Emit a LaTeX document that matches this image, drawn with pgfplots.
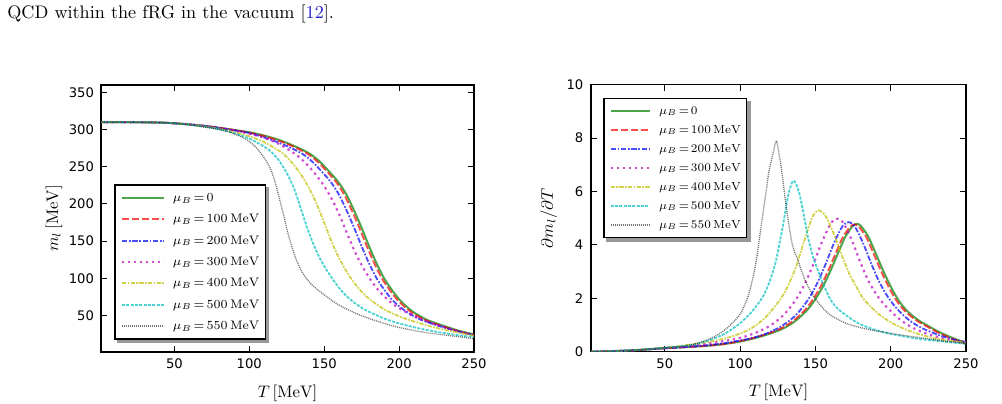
\RequirePackage{fix-cm}
\documentclass[border=0pt]{standalone}
\usepackage{fontspec}
\usepackage{pgfplots}
\pgfplotsset{compat=1.18}
\newfontfamily\tickfont{DejaVu Sans}

\pgfdeclarelayer{shadowlayer}
\pgfsetlayers{shadowlayer,main}

\definecolor{linkblue}{rgb}{0.12,0.12,0.8}
\definecolor{mplg}{rgb}{0,0.5,0}
\definecolor{mplr}{rgb}{1,0,0}
\definecolor{mplb}{rgb}{0,0,1}
\definecolor{mplm}{rgb}{0.75,0,0.75}
\definecolor{mply}{rgb}{0.75,0.75,0}
\definecolor{mplc}{rgb}{0,0.75,0.75}

% legend entries with tighter spacing around "="
\newcommand{\mub}[1]{$\thickmuskip=2.5mu \mu_B=#1$}

\pgfplotsset{
  mu0/.style={mplg, line width=1.2pt, opacity=0.7, solid},
  mu1/.style={mplr, line width=1.1pt, opacity=0.7, dash pattern=on 4.4pt off 1.6pt},
  mu2/.style={mplb, line width=1.1pt, opacity=0.7, dash pattern=on 3.2pt off 1pt on 1pt off 1pt},
  mu3/.style={mplm, line width=1.3pt, opacity=0.7, dash pattern=on 1.4pt off 2.2pt},
  mu4/.style={mply, line width=1.1pt, opacity=0.7, dash pattern=on 2.6pt off 0.8pt on 1pt off 0.8pt},
  mu5/.style={mplc, line width=1.1pt, opacity=0.7, dash pattern=on 1.8pt off 0.8pt},
  mu6/.style={black, line width=0.8pt, opacity=0.55, dash pattern=on 0.6pt off 0.6pt},
  panel/.style={
    scale only axis, height=160.2pt, anchor=south west,
    xmin=1, xmax=250, xtick={50,100,150,200,250},
    tick align=inside, tick pos=both,
    major tick length=3.6pt,
    tick style={black, line width=0.6pt},
    axis line style={line width=0.8pt},
    tick label style={font=\tickfont\fontsize{7.9}{9.5}\selectfont, inner sep=0pt},
    xticklabel style={yshift=-4pt},
    /pgf/number format/assume math mode=true,
    scaled ticks=false,
    label style={font=\fontsize{10.4}{12}\selectfont, inner sep=0pt},
    legend cell align=left,
  },
}

\begin{document}
\begin{tikzpicture}[x=1pt,y=1pt]
\useasboundingbox (0,0) rectangle (601.2,241.8);
\node[anchor=base west, inner sep=0pt, font=\fontsize{10.9}{13}\selectfont]
  at (4.2,230.8) {QCD within the fRG in the vacuum [\textcolor{linkblue}{12}].};

% ---------- light quark mass ----------
\begin{axis}[panel,
  at={(60.6pt,30.6pt)}, width=223.8pt,
  ymin=1, ymax=360, ytick={50,100,150,200,250,300,350},
  yticklabel style={xshift=-4pt},
  xlabel={$T\,[\mathrm{MeV}]$},
  ylabel={$m_l\,[\mathrm{MeV}]$},
  every axis x label/.style={at={(axis description cs:0.5,-0.0999)}, anchor=north},
  every axis y label/.style={at={(axis description cs:-0.126,0.5)}, rotate=90, anchor=center},
  legend image code/.code={\draw[#1] (0pt,0pt) -- (25.2pt,0pt);},
  legend style={name=legL, at={(0.0348,0.629)}, anchor=north west, draw=black, line width=1pt,
    fill=white, font=\fontsize{7.4}{9}\selectfont,
    inner xsep=3.6pt, inner ysep=3.9pt, row sep=4.8pt, column sep=4.8pt,
    nodes={inner sep=0pt, text height=6pt, text depth=2pt}},
]
\addplot[mu0, smooth] coordinates {(0,310)(20,310)(40,309.5)(50,308.5)(60,307)(70,305)(80,302.5)(90,299.5)(100,296.5)(110,292)(120,286)(130,278)(140,268)(147,257)(155,240)(160,228)(165,212)(170,191)(175,168)(180,143)(185,120)(190,100)(195,85)(200,72)(205,62)(210,54)(215,48)(220,43)(230,36)(240,29.5)(250,24.5)};
\addlegendentry{\mub{0}}
\addplot[mu1, smooth] coordinates {(0,310)(20,310)(40,309.5)(50,308.5)(60,307)(70,305)(80,302.5)(90,299.5)(98.5,296.5)(108.5,292)(118.5,286)(128.5,278)(138.5,268)(145.5,257)(153.5,240)(158.5,228)(163.5,212)(168.5,191)(173.5,168)(178.5,143)(183.5,120)(188.5,100)(193.5,85)(198.5,72)(203.5,62)(208.5,54)(213.5,48)(218.5,43)(228.5,36)(238.5,29.5)(248.5,24.5)(250,24)};
\addlegendentry{\mub{100\,\mathrm{MeV}}}
\addplot[mu2, smooth] coordinates {(0,310)(20,310)(40,309.5)(50,308.5)(60,307)(70,305)(80,302.3)(90,299)(100,295.5)(105,292.5)(115,286)(125,278)(135,268)(142,257)(150,240)(155,228)(160,212)(165,191)(170,168)(175,143)(180,120)(185,100)(190,85)(195,72)(200,62.5)(205,55)(210,49)(215,44)(225,37)(235,31)(245,26)(250,24)};
\addlegendentry{\mub{200\,\mathrm{MeV}}}
\addplot[mu3, smooth] coordinates {(0,310)(20,310)(40,309.5)(50,308.5)(60,307)(70,305)(80,302)(90,298.5)(100,294.5)(110,289)(120,280.5)(130,268)(135,260)(140,250)(145,238)(150,224)(155,207)(160,186)(165,162)(170,138)(175,118)(180,101)(185,87)(190,76)(195,67)(200,60)(210,49)(220,41)(230,34.5)(240,28.5)(250,23.5)};
\addlegendentry{\mub{300\,\mathrm{MeV}}}
\addplot[mu4, smooth] coordinates {(0,310)(20,310)(40,309.5)(50,308.5)(60,306.8)(70,304.3)(80,301)(90,296.5)(100,291)(110,283)(120,271.5)(125,263)(130,252)(135,238)(140,221)(145,200)(150,175)(155,149)(160,127)(165,109)(170,94)(175,82)(180,72.5)(190,58.5)(200,49)(210,42)(220,36)(230,31)(240,27)(250,23)};
\addlegendentry{\mub{400\,\mathrm{MeV}}}
\addplot[mu5, smooth] coordinates {(0,310)(20,310)(40,309.5)(50,308.5)(60,306.5)(70,304)(80,300.5)(90,295)(100,288)(110,277)(115,269.5)(120,258)(124,245)(127,234)(130,220)(133,203)(136,184)(139,166)(142,150)(145,136)(148,123.5)(152,110)(156,98)(160,87)(165,76)(170,67.5)(175,60.5)(180,55)(190,46)(200,39.5)(215,32)(230,26.5)(240,23.5)(250,21)};
\addlegendentry{\mub{500\,\mathrm{MeV}}}
\addplot[mu6, smooth] coordinates {(0,310)(20,310)(40,309.5)(50,308.5)(60,306.5)(70,303.5)(80,300)(87,296.5)(95,290)(100,284)(105,275)(110,262)(113,252)(115,243)(117,231)(119,216)(121,200)(123,184)(125,167)(127,152)(129,139)(131,127)(134,113)(137,103)(141,93)(146,84)(150,78)(155,70.5)(160,64)(170,54)(180,46)(190,39.5)(200,34)(215,28)(230,24)(240,21.5)(250,19)};
\addlegendentry{\mub{550\,\mathrm{MeV}}}
\end{axis}

% ---------- its temperature derivative ----------
\begin{axis}[panel,
  at={(354.6pt,30.8pt)}, width=225pt,
  ymin=0, ymax=10, ytick={0,2,4,6,8,10},
  yticklabel style={xshift=-4.4pt},
  xlabel={$T\,[\mathrm{MeV}]$},
  ylabel={$\partial m_l/\partial T$},
  every axis x label/.style={at={(axis description cs:0.5,-0.0999)}, anchor=north},
  every axis y label/.style={at={(axis description cs:-0.1125,0.5)}, rotate=90, anchor=center},
  legend image code/.code={\draw[#1] (0pt,0pt) -- (23.4pt,0pt);},
  legend style={name=legR, at={(0.032,0.951)}, anchor=north west, draw=black, line width=1pt,
    fill=white, font=\fontsize{7.0}{9}\selectfont,
    inner xsep=3.4pt, inner ysep=3.6pt, row sep=3.6pt, column sep=5pt,
    nodes={inner sep=0pt, text height=5.8pt, text depth=2pt}},
]
\addplot[mu0, smooth] coordinates {(0,0)(10,0.01)(20,0.03)(30,0.05)(40,0.09)(50,0.13)(60,0.16)(70,0.19)(80,0.23)(90,0.29)(100,0.38)(110,0.51)(115,0.59)(120,0.68)(125,0.78)(130,0.91)(135,1.08)(140,1.31)(145,1.59)(150,1.97)(155,2.44)(160,3.03)(165,3.69)(170,4.32)(175,4.72)(177.5,4.78)(180,4.72)(185,4.32)(190,3.69)(195,3.03)(200,2.44)(205,1.94)(210,1.58)(215,1.32)(220,1.12)(225,0.96)(230,0.80)(235,0.66)(240,0.54)(245,0.43)(250,0.33)};
\addlegendentry{\mub{0}}
\addplot[mu1, smooth] coordinates {(0,0)(10,0.01)(20,0.03)(30,0.05)(40,0.09)(50,0.13)(60,0.16)(70,0.19)(80,0.23)(90,0.29)(98.5,0.38)(108.5,0.51)(113.5,0.59)(118.5,0.68)(123.5,0.78)(128.5,0.91)(133.5,1.08)(138.5,1.31)(143.5,1.59)(148.5,1.97)(153.5,2.44)(158.5,3.03)(163.5,3.69)(168.5,4.32)(173.5,4.70)(176,4.76)(178.5,4.70)(183.5,4.32)(188.5,3.69)(193.5,3.03)(198.5,2.44)(203.5,1.94)(208.5,1.58)(213.5,1.32)(218.5,1.12)(223.5,0.96)(228.5,0.80)(233.5,0.66)(238.5,0.54)(243.5,0.43)(248.5,0.33)(250,0.31)};
\addlegendentry{\mub{100\,\mathrm{MeV}}}
\addplot[mu2, smooth] coordinates {(0,0)(10,0.01)(20,0.03)(30,0.05)(40,0.09)(50,0.13)(60,0.16)(70,0.20)(80,0.25)(90,0.32)(95,0.37)(102,0.44)(107,0.50)(112,0.575)(117,0.67)(122,0.79)(127,0.94)(132,1.13)(137,1.37)(142,1.70)(147,2.12)(152,2.66)(157,3.31)(162,4.02)(167,4.61)(169.5,4.79)(172,4.85)(174.5,4.79)(177,4.61)(182,4.02)(187,3.31)(192,2.66)(197,2.15)(202,1.75)(207,1.44)(212,1.19)(217,1.00)(222,0.85)(227,0.73)(232,0.62)(237,0.53)(242,0.45)(250,0.36)};
\addlegendentry{\mub{200\,\mathrm{MeV}}}
\addplot[mu3, smooth] coordinates {(0,0)(10,0.01)(20,0.03)(30,0.05)(40,0.09)(50,0.13)(60,0.17)(70,0.23)(80,0.31)(89.5,0.40)(94.5,0.45)(99.5,0.51)(104.5,0.59)(109.5,0.69)(114.5,0.81)(119.5,0.96)(124.5,1.16)(129.5,1.41)(134.5,1.75)(139.5,2.17)(144.5,2.73)(149.5,3.40)(154.5,4.13)(159.5,4.73)(162,4.92)(164.5,4.98)(167,4.92)(169.5,4.73)(174.5,4.13)(179.5,3.40)(184.5,2.73)(189.5,2.23)(194.5,1.84)(199.5,1.55)(204.5,1.28)(209.5,1.07)(214.5,0.90)(219.5,0.77)(224.5,0.66)(234.5,0.50)(244.5,0.40)(250,0.35)};
\addlegendentry{\mub{300\,\mathrm{MeV}}}
\addplot[mu4, smooth] coordinates {(0,0)(10,0.01)(20,0.03)(30,0.06)(40,0.10)(50,0.15)(60,0.21)(72.2,0.31)(82.2,0.40)(92.2,0.53)(102.2,0.73)(107.2,0.87)(112.2,1.06)(117.2,1.30)(122.2,1.63)(127.2,2.00)(132.2,2.51)(137.2,3.19)(142.2,4.09)(147.2,4.93)(149.7,5.20)(152.2,5.29)(154.7,5.22)(157.2,5.04)(162.2,4.42)(167.2,3.66)(172.2,2.96)(177.2,2.43)(182.2,1.96)(192.2,1.40)(202.2,1.03)(212.2,0.78)(222.2,0.60)(232.2,0.47)(250,0.34)};
\addlegendentry{\mub{400\,\mathrm{MeV}}}
\addplot[mu5, smooth] coordinates {(0,0)(10,0.01)(20,0.03)(30,0.06)(40,0.10)(50,0.15)(60,0.20)(70,0.27)(80,0.44)(85,0.55)(90,0.68)(95,0.86)(100,1.07)(105,1.33)(110,1.65)(115,2.05)(118,2.40)(121,2.85)(124,3.45)(127,4.30)(129,4.90)(131,5.60)(133,6.10)(135.2,6.40)(137,6.30)(139,6.00)(141,5.50)(143,4.90)(145,4.30)(147,3.85)(149,3.45)(152,3.00)(155,2.55)(160,1.95)(165,1.60)(170,1.38)(175,1.18)(180,1.02)(185,0.91)(190,0.81)(200,0.67)(210,0.56)(220,0.47)(230,0.41)(240,0.35)(250,0.29)};
\addlegendentry{\mub{500\,\mathrm{MeV}}}
\addplot[mu6, smooth] coordinates {(0,0)(10,0.01)(20,0.03)(30,0.06)(40,0.10)(50,0.15)(60,0.19)(70,0.29)(80,0.48)(85,0.63)(90,0.82)(95,1.08)(100,1.40)(103,1.75)(106,2.20)(109,2.90)(111,3.50)(113,4.30)(115,5.10)(117,5.90)(119,6.70)(120.5,7.10)(122,7.45)(124.1,7.90)(126,7.35)(128,6.60)(130,5.70)(132,4.90)(134,4.20)(136,3.75)(138,3.50)(140,3.15)(143,2.70)(146,2.35)(150,1.98)(155,1.63)(160,1.37)(170,1.07)(180,0.90)(190,0.78)(200,0.68)(215,0.56)(230,0.44)(240,0.37)(250,0.31)};
\addlegendentry{\mub{550\,\mathrm{MeV}}}
\end{axis}

% shadows behind the two legend boxes
\begin{pgfonlayer}{shadowlayer}
\fill[black!40] ([shift={(1.9pt,-1.9pt)}]legL.south west) rectangle ([shift={(1.9pt,-1.9pt)}]legL.north east);
\fill[black!40] ([shift={(1.9pt,-1.9pt)}]legR.south west) rectangle ([shift={(1.9pt,-1.9pt)}]legR.north east);
\end{pgfonlayer}
\end{tikzpicture}
\end{document}
